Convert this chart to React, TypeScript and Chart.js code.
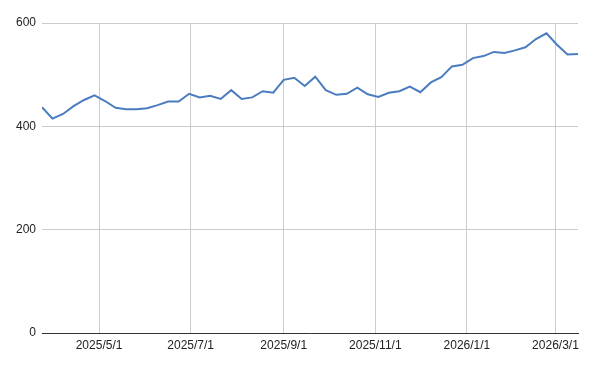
import React, { useEffect, useRef } from "react";
import { Chart, registerables } from "chart.js";

Chart.register(...registerables);

const dates: string[] = [
  "2025-03-24", "2025-03-31", "2025-04-07", "2025-04-14", "2025-04-21", "2025-04-28",
  "2025-05-05", "2025-05-12", "2025-05-19", "2025-05-26", "2025-06-02", "2025-06-09",
  "2025-06-16", "2025-06-23", "2025-06-30", "2025-07-07", "2025-07-14", "2025-07-21",
  "2025-07-28", "2025-08-04", "2025-08-11", "2025-08-18", "2025-08-25", "2025-09-01",
  "2025-09-08", "2025-09-15", "2025-09-22", "2025-09-29", "2025-10-06", "2025-10-13",
  "2025-10-20", "2025-10-27", "2025-11-03", "2025-11-10", "2025-11-17", "2025-11-24",
  "2025-12-01", "2025-12-08", "2025-12-15", "2025-12-22", "2025-12-29", "2026-01-05",
  "2026-01-12", "2026-01-19", "2026-01-26", "2026-02-02", "2026-02-09", "2026-02-16",
  "2026-02-23", "2026-03-02", "2026-03-09", "2026-03-16",
];

const values: number[] = [
  437, 415, 424, 439, 451, 460, 449, 436, 433, 433, 435, 441,
  448, 448, 463, 456, 459, 453, 470, 453, 456, 468, 465, 490,
  494, 478, 496, 470, 461, 463, 475, 462, 457, 465, 468, 477,
  466, 485, 495, 516, 519, 532, 536, 544, 542, 547, 553, 569,
  580, 558, 539, 540,
];

const tickLabels: string[] = ["2025/5/1", "2025/7/1", "2025/9/1", "2025/11/1", "2026/1/1", "2026/3/1"];
const yTicks: number[] = [0, 200, 400, 600];

const toDay = (s: string): number => {
  const parts = s.split(/[-\/]/).map(Number);
  return Date.UTC(parts[0], parts[1] - 1, parts[2]) / 86400000;
};

export default function App() {
  const ref = useRef<HTMLCanvasElement | null>(null);

  useEffect(() => {
    if (!ref.current) return;
    const tickDays = tickLabels.map(toDay);
    const points = dates.map((d, i) => ({ x: toDay(d), y: values[i] }));
    const font = { family: 'Arial, "Liberation Sans", sans-serif', size: 12 };
    const chart = new Chart(ref.current, {
      type: "line",
      data: {
        datasets: [
          {
            data: points,
            borderColor: "#4a7cbf",
            backgroundColor: "#4a7cbf",
            borderWidth: 2,
            pointRadius: 0,
            tension: 0,
          },
        ],
      },
      options: {
        responsive: false,
        animation: false,
        devicePixelRatio: 1,
        layout: { padding: { top: 23, right: 17, left: 0, bottom: 0 } },
        plugins: { legend: { display: false }, tooltip: { enabled: false } },
        scales: {
          x: {
            type: "linear",
            min: toDay(dates[0]),
            max: toDay(dates[dates.length - 1]),
            afterBuildTicks: (scale: any) => {
              scale.ticks = tickDays.map((v) => ({ value: v }));
            },
            afterFit: (scale: any) => {
              scale.height = 36;
            },
            ticks: {
              autoSkip: false,
              maxRotation: 0,
              padding: 5,
              color: "#222",
              font,
              callback: (v: any) => {
                const i = tickDays.indexOf(Number(v));
                return i >= 0 ? tickLabels[i] : "";
              },
            },
            grid: { color: "#cccccc", lineWidth: 1, drawTicks: false },
            border: { display: true, color: "#333333", width: 1 },
          },
          y: {
            type: "linear",
            min: 0,
            max: 600,
            afterBuildTicks: (scale: any) => {
              scale.ticks = yTicks.map((v) => ({ value: v }));
            },
            afterFit: (scale: any) => {
              scale.width = 42;
            },
            ticks: { padding: 6, color: "#222", font },
            grid: { color: "#cccccc", lineWidth: 1, drawTicks: false },
            border: { display: false },
          },
        },
      },
    });
    return () => chart.destroy();
  }, []);

  return (
    <div style={{ position: "absolute", left: 0, top: 0, width: 595, height: 369, background: "#fff" }}>
      <canvas ref={ref} width={595} height={369} style={{ width: 595, height: 369, display: "block" }} />
    </div>
  );
}
